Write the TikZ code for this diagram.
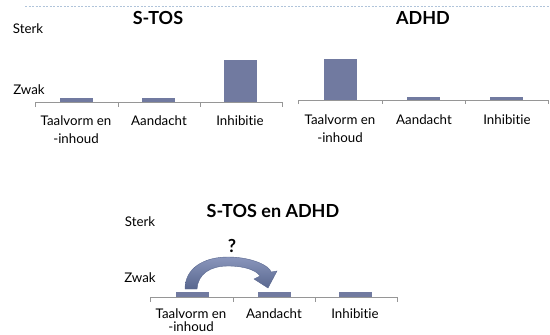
\documentclass[tikz,border=0pt]{standalone}
\usepackage{fontspec}
\setmainfont{Lato}[Ligatures={NoCommon}]
\definecolor{barblue}{RGB}{113,122,160}
\definecolor{axisgray}{RGB}{150,150,150}
\definecolor{dotblue}{RGB}{176,196,218}
\definecolor{arrowlight}{RGB}{138,150,188}
\definecolor{arrowdark}{RGB}{88,102,142}

\begin{document}
\begin{tikzpicture}
  [x=1pt,y=-1pt,
   every node/.style={inner sep=0pt,anchor=base,font=\fontsize{13.3}{15}\selectfont},
   ttl/.style={font=\fontsize{18}{20}\selectfont\bfseries},
   bar/.style={fill=barblue},
   axis/.style={draw=axisgray,line width=0.8pt}]
  \useasboundingbox (0,0) rectangle (550,335);
  \draw[dotblue,line width=1pt,dash pattern=on 2pt off 1.5pt] (25,6) -- (550,6);

  % S-TOS
  \node[ttl] (tos) at (158,24) {S-TOS};
  \node (sterk1) at (28,33) {Sterk};
  \node (zwak1) at (29,94) {Zwak};
  \draw[axis] (35,107) -- (35,102.7) -- (282,102.7) -- (282,107);
  \foreach \x in {118,200}
    \draw[axis] (\x,102.7) -- (\x,107);
  \foreach \x/\top in {60/98.3,142/98.3,224/59.5}
    \fill[bar] (\x,\top) rectangle (\x+33,102.3);
  \node (taal1) at (76,125) {Taalvorm en};
  \node (inh1) at (76,143) {-inhoud};
  \node (aand1) at (159,125) {Aandacht};
  \node (inhib1) at (240,125) {Inhibitie};

  % ADHD
  \node[ttl] (adhd) at (423,24) {ADHD};
  \draw[axis] (298,104) -- (298,100) -- (548,100) -- (548,104);
  \foreach \x in {382,465}
    \draw[axis] (\x,100) -- (\x,104);
  \foreach \x/\top in {324/59,407/96.7,490/96.7}
    \fill[bar] (\x,\top) rectangle (\x+33,99.6);
  \node (taal2) at (340,124) {Taalvorm en};
  \node (inh2) at (340,142) {-inhoud};
  \node (aand2) at (424,124) {Aandacht};
  \node (inhib2) at (507,124) {Inhibitie};

  % S-TOS en ADHD
  \node[ttl] (beide) at (273,217) {S-TOS en ADHD};
  \node (sterk3) at (140,226) {Sterk};
  \node (zwak3) at (140,282) {Zwak};
  \draw[axis] (150,302) -- (150,297.5) -- (397,297.5) -- (397,302);
  \foreach \x in {233,315}
    \draw[axis] (\x,297.5) -- (\x,302);
  \foreach \x in {176,258,339}
    \fill[bar] (\x,291.7) rectangle (\x+33,297.1);
  \node (taal3) at (191,318) {Taalvorm en};
  \node (inh3) at (191,331) {-inhoud};
  \node (aand3) at (274,318) {Aandacht};
  \node (inhib3) at (355,318) {Inhibitie};
  \node[ttl] (vraag) at (232,252) {?};
  % curved arrow
  \shade[top color=arrowlight,bottom color=arrowdark,draw=arrowdark,line width=0.4pt]
    (185,289) .. controls (185,268) and (204,257) .. (228,257)
    .. controls (252,257) and (270,266) .. (271,272)
    -- (277,271) -- (268,288) -- (254,279) -- (260,276)
    .. controls (256,270) and (244,266) .. (228,266)
    .. controls (210,266) and (198,274) .. (197,289) -- cycle;
\end{tikzpicture}
\end{document}
